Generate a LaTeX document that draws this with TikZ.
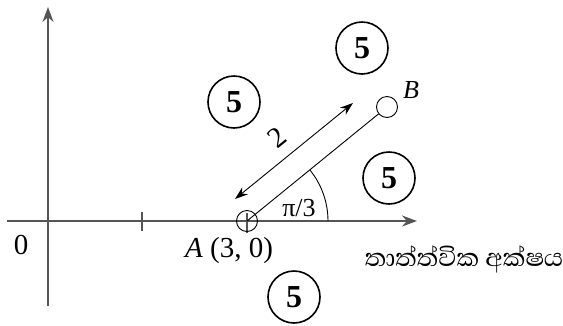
\documentclass[tikz,border=0pt]{standalone}
\usepackage{fontspec}
\setmainfont{Liberation Serif}
\newfontfamily\sinhalafont[Script=Sinhala]{Abhaya Libre}
\usetikzlibrary{arrows.meta,calc}
\definecolor{axgray}{RGB}{85,85,85}

\begin{document}
\begin{tikzpicture}[x=1pt,y=-1pt,>=Stealth,
  axis/.style={draw=axgray,line width=1.8pt,-{Stealth[length=15pt,width=11pt]}},
  axtick/.style={draw=axgray,line width=1.8pt},
  thinline/.style={draw,line width=0.9pt},
  dimarrow/.style={thinline,{Stealth[length=13pt,width=9pt]}-{Stealth[length=13pt,width=9pt]}},
  ptcirc/.style={draw,circle,line width=0.9pt,minimum size=21pt,inner sep=0pt},
  fivemark/.style={draw,circle,line width=1.6pt,minimum size=52pt,inner sep=0pt,
               font=\fontsize{32}{32}\selectfont\bfseries},
  lbl/.style={font=\fontsize{29}{32}\selectfont}]
  \useasboundingbox (0,0) rectangle (563,325);
  % axes
  \coordinate (xl) at (7,221);
  \coordinate (xr) at (417,221);
  \coordinate (yb) at (48,306);
  \coordinate (yt) at (48,7);
  \draw[axis] (xl) -- (xr);
  \draw[axis] (yb) -- (yt);
  \draw[axtick] (142,212) -- (142,231);
  \draw[axtick] (247,213) -- (247,233);
  % points
  \node[ptcirc] (A) at (247,221) {};
  \node[ptcirc] (B) at (387,107) {};
  \draw[thinline] (A.center) -- (B);
  \coordinate (p) at (235,199);
  \coordinate (q) at (353,103);
  \draw[dimarrow] (p) -- node[lbl,sloped,above=8pt,pos=0.47] (len) {2} (q);
  \draw[thinline] ($(A.center)+(81,0)$) arc[start angle=0,end angle=-39.2,radius=81];
  % labels
  \node[lbl,font=\fontsize{26}{28}\selectfont] (ang) at (299,208) {π/3};
  \node[lbl,font=\fontsize{26}{28}\selectfont] (Bl) at (411,90) {\textit{B}};
  \node[lbl] (zero) at (21,245) {0};
  \node[lbl] (Al) at (229,251) {\textit{A} (3, 0)};
  \node[font=\sinhalafont\fontsize{32}{36}\selectfont] (real) at (464,259) {තාත්ත්වික අක්ෂය};
  % marks
  \node[fivemark] (m1) at (362,48) {5};
  \node[fivemark] (m2) at (234,102) {5};
  \node[fivemark] (m3) at (389,178) {5};
  \node[fivemark] (m4) at (294,297) {5};
\end{tikzpicture}
\end{document}
